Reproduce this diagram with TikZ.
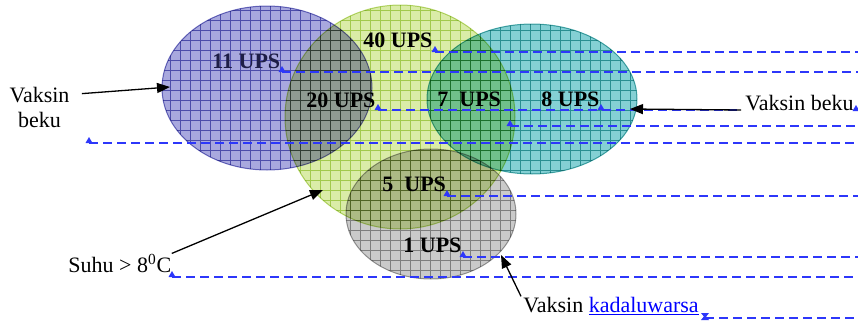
\documentclass[tikz,border=0pt]{standalone}
\usepackage{fontspec}
\setmainfont{Liberation Serif}
\usetikzlibrary{arrows.meta}

\definecolor{bluefill}{RGB}{168,168,222}
\definecolor{blueline}{RGB}{118,118,196}
\definecolor{yelfill}{RGB}{218,236,168}
\definecolor{yelline}{RGB}{190,218,118}
\definecolor{tealfill}{RGB}{132,208,212}
\definecolor{tealline}{RGB}{80,175,175}
\definecolor{grayfill}{RGB}{202,202,202}
\definecolor{grayline}{RGB}{160,160,160}
\definecolor{anchorblue}{RGB}{45,55,250}

\tikzset{
  lbl/.style={font=\fontsize{11}{12.5}\selectfont\bfseries, inner sep=0pt, anchor=base west},
  txt/.style={font=\fontsize{11}{12.5}\selectfont, inner sep=0pt},
  arr/.style={draw=black, line width=0.65pt, -{Triangle[length=6.5pt,width=5pt]}},
  guide/.style={draw=anchorblue, line width=0.6pt, dash pattern=on 4.5pt off 2.5pt},
  anchorfill/.style={fill=anchorblue}
}

% blue link-style underline, a little heavier than \underline
\newcommand{\linkul}[1]{\setbox0\hbox{#1}\rlap{\rule[-1.6pt]{\wd0}{0.8pt}}\box0}

% filled ellipse with a grid texture
\newcommand{\gridblob}[6]{%
  \begin{scope}[blend mode=multiply]
    \fill[#5] (#1,#2) ellipse [x radius=#3, y radius=#4];
    \begin{scope}
      \clip (#1,#2) ellipse [x radius=#3, y radius=#4];
      \draw[#6, line width=0.3pt, step=5pt] (#1-#3-10,#2-#4-10) grid (#1+#3+10,#2+#4+10);
    \end{scope}
    \draw[#6, line width=0.5pt] (#1,#2) ellipse [x radius=#3, y radius=#4];
  \end{scope}
}

% small upward triangle marker with its base at (x,y)
\newcommand{\anchormark}[3]{%
  \fill[anchorfill] (#1-3.5,#2) -- (#1+3.5,#2) -- (#1,#2-6) -- cycle;
  \coordinate (#3) at (#1,#2);
}

\begin{document}
\begin{tikzpicture}[x=0.5pt, y=-0.5pt]
\useasboundingbox (0,0) rectangle (858,322);

% the four overlapping ellipses
\gridblob{267}{88}{105}{82}{bluefill}{blueline}
\gridblob{400}{117}{115}{112}{yelfill}{yelline}
\gridblob{532}{99}{105}{75}{tealfill}{tealline}
\gridblob{431}{214}{85}{65}{grayfill}{grayline}

% counts inside the regions
\node[lbl, text={rgb,255:red,30;green,30;blue,70}] (u11) at (212,68) {11 UPS};
\node[lbl] (u40) at (363,47) {40 UPS};
\node[lbl] (u20) at (306,107) {20 UPS};
\node[lbl] (u7)  at (437,106) {7\ \ UPS};
\node[lbl] (u8)  at (541,106) {8 UPS};
\node[lbl] (u5)  at (382,191) {5\ \ UPS};
\node[lbl] (u1)  at (403,252) {1 UPS};

% anchor markers and their dashed guide lines
\anchormark{435}{52}{m40}
\anchormark{282}{72}{m11}
\anchormark{378}{110}{m20}
\anchormark{601}{110}{m8}
\anchormark{510}{126}{m7}
\anchormark{89}{143}{mvl}
\anchormark{447}{196}{m5}
\anchormark{463}{257}{m1}
\anchormark{172}{277}{msu}
\coordinate (e40) at (858,52);
\coordinate (e11) at (858,72);
\coordinate (e20) at (858,110);
\coordinate (e7)  at (858,126);
\coordinate (evl) at (858,143);
\coordinate (e5)  at (858,196);
\coordinate (e1)  at (858,257);
\coordinate (esu) at (858,277);
\coordinate (eka) at (858,318);
\draw[guide] (m40) -- (e40);
\draw[guide] (m11) -- (e11);
\draw[guide] (m20) -- (e20);
\draw[guide] (m7) -- (e7);
\draw[guide] (mvl) -- (evl);
\draw[guide] (m5) -- (e5);
\draw[guide] (m1) -- (e1);
\draw[guide] (msu) -- (esu);

% side labels
\node[txt, anchor=base] (vkl) at (39.5,102) {Vaksin};
\node[txt, anchor=base] (bkl) at (39.5,127) {beku};
\node[txt, fill=white, inner sep=2pt, anchor=base west] (vkr) at (741,110) {Vaksin beku};
\anchormark{856}{111}{mvr}
\node[txt, anchor=base west] (suhu) at (68,272) {Suhu > 8\textsuperscript{0}C};
\node[txt, anchor=base west] (kad) at (523,312)
  {Vaksin \textcolor{blue}{\linkul{kadaluwarsa}}};

% marker after the expired-vaccine label
\coordinate (mka) at (705,318);
\fill[anchorfill] (701,313) -- (709,313) -- (705,318) -- cycle;
\fill[anchorfill] (701,320) -- (709,320) -- (705,315) -- cycle;
\draw[guide] (mka) -- (eka);

% pointer arrows
\coordinate (tbl) at (170,87);
\coordinate (tbr) at (630,109);
\coordinate (tsu) at (323,190);
\coordinate (tka) at (501,255);
\draw[arr, shorten <=6pt] (vkl.east) -- (tbl);
\draw[arr] (vkr.base west) -- (tbr);
\draw[arr] (suhu.north east) -- (tsu);
\draw[arr] ([xshift=-1pt]kad.north west) -- (tka);
\end{tikzpicture}
\end{document}
